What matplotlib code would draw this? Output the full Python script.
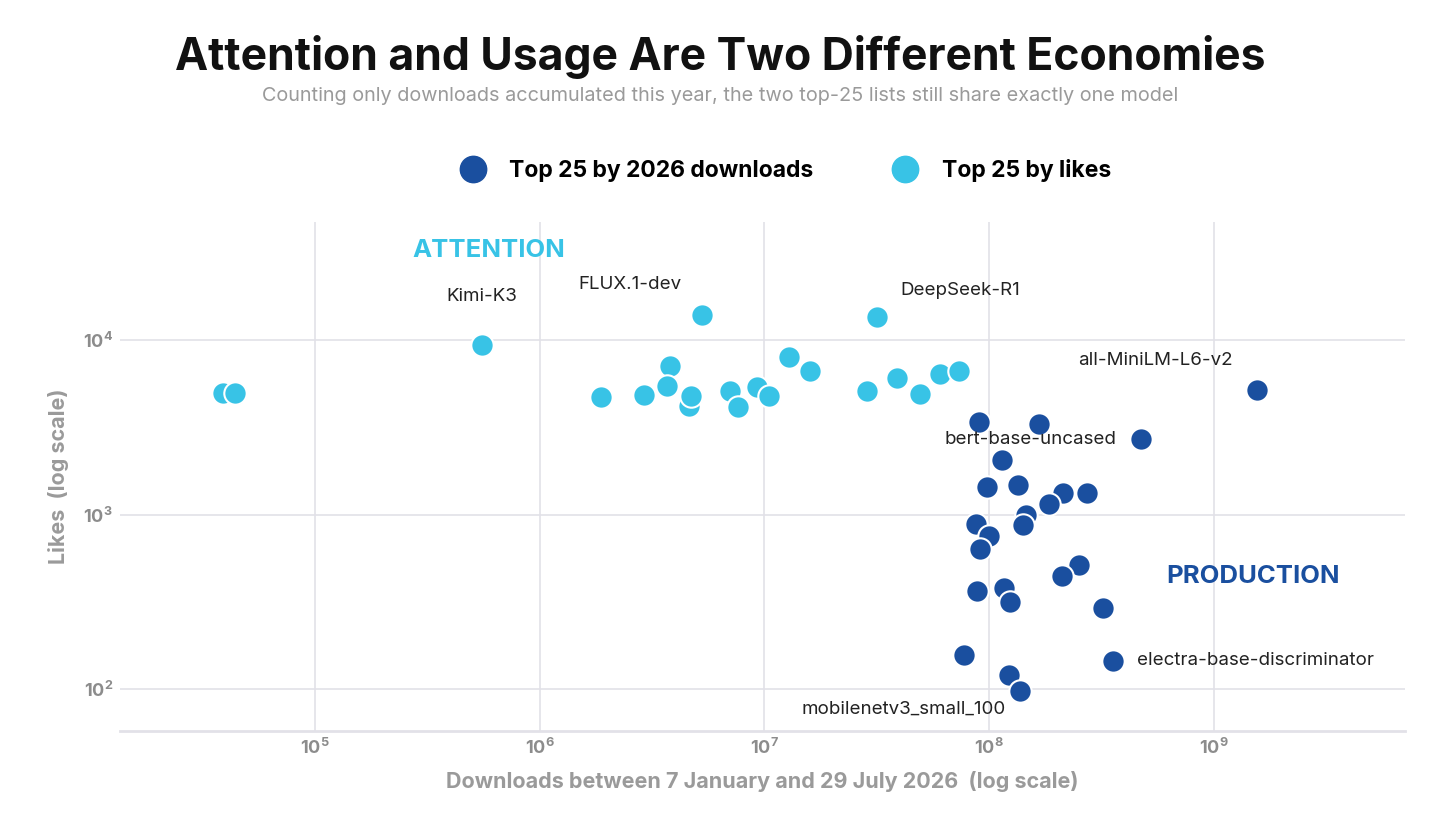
import numpy as np
import matplotlib.pyplot as plt
from matplotlib.lines import Line2D

plt.rcParams['font.family'] = ['Inter', 'DejaVu Sans']

# TOP 25 BY LIKES (SEM O MODELO EM COMUM)
likes_dl = [39000, 44600, 553000, 1870000, 2910000, 3790000, 3680000, 4780000,
            4610000, 5270000, 7010000, 7620000, 9250000, 10500000, 12900000,
            15900000, 28600000, 31600000, 38800000, 49100000, 60300000, 73300000,
            4700000, 44000]
likes_lk = [4970, 4970, 9350, 4710, 4840, 7100, 5450, 4780,
            4190, 13900, 5100, 4130, 5380, 4780, 8000,
            6640, 5100, 13550, 6050, 4910, 6380, 6640,
            4800, 4950]

# TOP 25 BY 2026 DOWNLOADS
down_dl = [1550000000, 472000000, 89900000, 166000000, 114000000, 97500000,
           134000000, 212000000, 272000000, 184000000, 146000000, 141000000,
           87100000, 99500000, 90800000, 251000000, 210000000, 88100000,
           116000000, 124000000, 320000000, 77100000, 355000000, 122000000,
           137000000]
down_lk = [5160, 2710, 3390, 3300, 2050, 1440,
           1480, 1330, 1330, 1150, 990, 870,
           883, 753, 634, 514, 445, 365,
           379, 315, 291, 157, 145, 120,
           97.5]

# NOMES EM DESTAQUE
rotulos = {
    'Kimi-K3': (553000, 9350, 0, 49, 'center'),
    'FLUX.1-dev': (5270000, 13900, -72, 31, 'center'),
    'DeepSeek-R1': (31600000, 13550, 24, 27, 'left'),
    'all-MiniLM-L6-v2': (1550000000, 5160, -24, 30, 'right'),
    'bert-base-uncased': (472000000, 2710, -24, 0, 'right'),
    'electra-base-discriminator': (355000000, 145, 24, 0, 'left'),
    'mobilenetv3_small_100': (137000000, 97.5, -116, -18, 'center'),
}

azul_escuro = '#1a4f9f'
azul_claro = '#38c3e6'
cinza = '#8c8c8c'

fig = plt.figure(figsize=(14.4, 8.26), dpi=100)
ax = fig.add_axes([0.0833, 0.115, 0.8924, 0.616])

ax.scatter(likes_dl, likes_lk, s=260, color=azul_claro, edgecolor='white', linewidth=1.5, zorder=3)
ax.scatter(down_dl, down_lk, s=260, color=azul_escuro, edgecolor='white', linewidth=1.5, zorder=4)

ax.set_xscale('log')
ax.set_yscale('log')
ax.set_xlim(10**4.133, 10**9.85)
ax.set_ylim(10**1.76, 10**4.676)

ax.grid(True, which='major', color='#e2e1e8', linewidth=1.2)
ax.minorticks_off()
ax.tick_params(length=0, labelsize=13, labelcolor=cinza, pad=5)
for t in ax.get_xticklabels() + ax.get_yticklabels():
    t.set_fontweight('bold')
for s in ['top', 'right', 'left']:
    ax.spines[s].set_visible(False)
ax.spines['bottom'].set_color('#e2e1e8')
ax.spines['bottom'].set_linewidth(2)
ax.set_axisbelow(True)

ax.set_xlabel('Downloads between 7 January and 29 July 2026  (log scale)', fontsize=15.5,
              fontweight='bold', color='#9a9a9a', labelpad=9)
ax.set_ylabel('Likes  (log scale)', fontsize=15.5, fontweight='bold', color='#9a9a9a', labelpad=10)

for nome, (x, y, dx, dy, ha) in rotulos.items():
    ax.annotate(nome, (x, y), xytext=(dx, dy), textcoords='offset pixels',
                ha=ha, va='center', fontsize=13.5, color='#222222', zorder=5)

ax.text(0.287, 0.945, 'ATTENTION', transform=ax.transAxes, ha='center', va='center',
        fontsize=18.5, fontweight='bold', color=azul_claro)
ax.text(0.882, 0.3045, 'PRODUCTION', transform=ax.transAxes, ha='center', va='center',
        fontsize=18.5, fontweight='bold', color=azul_escuro)

fig.text(0.5, 0.931, 'Attention and Usage Are Two Different Economies', ha='center', va='center',
         fontsize=32, fontweight='bold', color='#111111')
fig.text(0.5, 0.884, 'Counting only downloads accumulated this year, the two top-25 lists still share exactly one model',
         ha='center', va='center', fontsize=14.3, color='#9a9a9a')

handles = [Line2D([], [], marker='o', linestyle='', markersize=19, color=azul_escuro),
           Line2D([], [], marker='o', linestyle='', markersize=19, color=azul_claro)]
leg = fig.legend(handles, ['Top 25 by 2026 downloads', 'Top 25 by likes'], loc='center',
                 bbox_to_anchor=(0.542, 0.793), ncol=2, frameon=False, handletextpad=0.6,
                 columnspacing=3.0, prop={'size': 16.5, 'weight': 'bold'})

fig.savefig('out.png', dpi=100)
